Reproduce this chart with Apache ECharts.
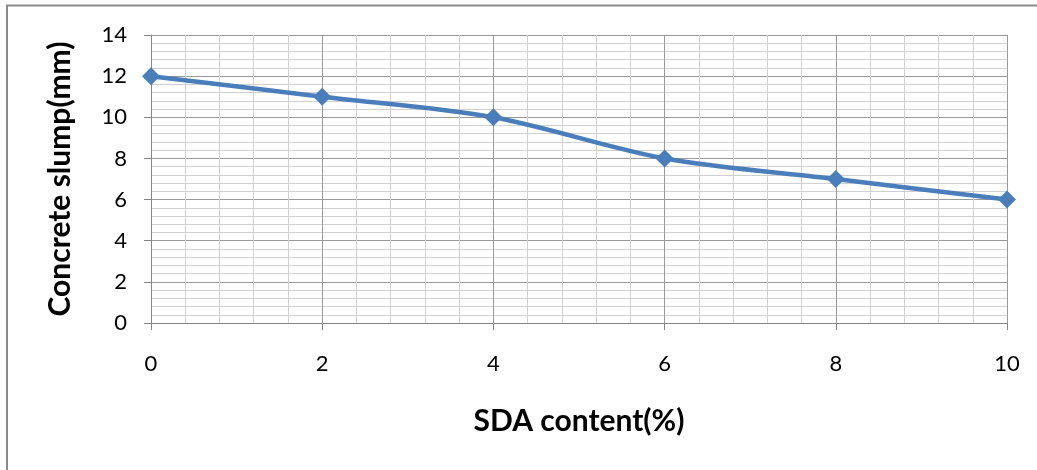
<!DOCTYPE html>
<html>
<head>
<meta charset="utf-8">
<script src="https://cdn.jsdelivr.net/npm/echarts@6/dist/echarts.min.js"></script>
<style>
html,body{margin:0;padding:0;background:#fff;}
#chart{width:1037px;height:470px;}
</style>
</head>
<body>
<div id="chart"></div>
<script>
var sdaContent = [0, 2, 4, 6, 8, 10];
var slump = [12, 11, 10, 8, 7, 6];
var xTitle = 'SDA content(%)';
var yTitle = 'Concrete slump(mm)';

var chart = echarts.init(document.getElementById('chart'));
var font = 'Lato, "Open Sans", sans-serif';
chart.setOption({
  animation: false,
  backgroundColor: '#fff',
  graphic: [{
    type: 'polyline',
    shape: {points: [[7, 475], [7, 5.5], [1045, 5.5]]},
    style: {stroke: '#8a8a8a', lineWidth: 2, fill: null},
    silent: true
  }],
  grid: {left: 151, right: 30, top: 35, bottom: 147, containLabel: false},
  xAxis: {
    type: 'value', min: 0, max: 10, interval: 2,
    name: xTitle, nameLocation: 'middle', nameGap: 83,
    nameTextStyle: {fontFamily: font, fontSize: 30, fontWeight: 'bold', color: '#000'},
    axisLine: {show: true, lineStyle: {color: '#868686', width: 1}},
    axisTick: {show: true, length: 7, inside: false, lineStyle: {color: '#868686'}},
    axisLabel: {fontFamily: font, fontSize: 22, color: '#000', margin: 30},
    splitLine: {show: true, lineStyle: {color: '#9a9a9a', width: 1}},
    minorTick: {show: false, splitNumber: 5},
    minorSplitLine: {show: true, lineStyle: {color: '#d0d0d0', width: 1}}
  },
  yAxis: {
    type: 'value', min: 0, max: 14, interval: 2,
    name: yTitle, nameLocation: 'middle', nameGap: 76,
    nameTextStyle: {fontFamily: font, fontSize: 30, fontWeight: 'bold', color: '#000'},
    axisLine: {show: true, lineStyle: {color: '#868686', width: 1}},
    axisTick: {show: true, length: 7, inside: false, lineStyle: {color: '#868686'}},
    axisLabel: {fontFamily: font, fontSize: 22, color: '#000', margin: 24},
    splitLine: {show: true, lineStyle: {color: '#9a9a9a', width: 1}},
    minorTick: {show: false, splitNumber: 5},
    minorSplitLine: {show: true, lineStyle: {color: '#d0d0d0', width: 1}}
  },
  series: [{
    type: 'line',
    data: sdaContent.map(function (x, i) { return [x, slump[i]]; }),
    smooth: 0.3,
    symbol: 'diamond',
    symbolSize: 18,
    itemStyle: {color: '#4a7ebb'},
    lineStyle: {color: '#4a7ebb', width: 4.5}
  }]
});
</script>
</body>
</html>
